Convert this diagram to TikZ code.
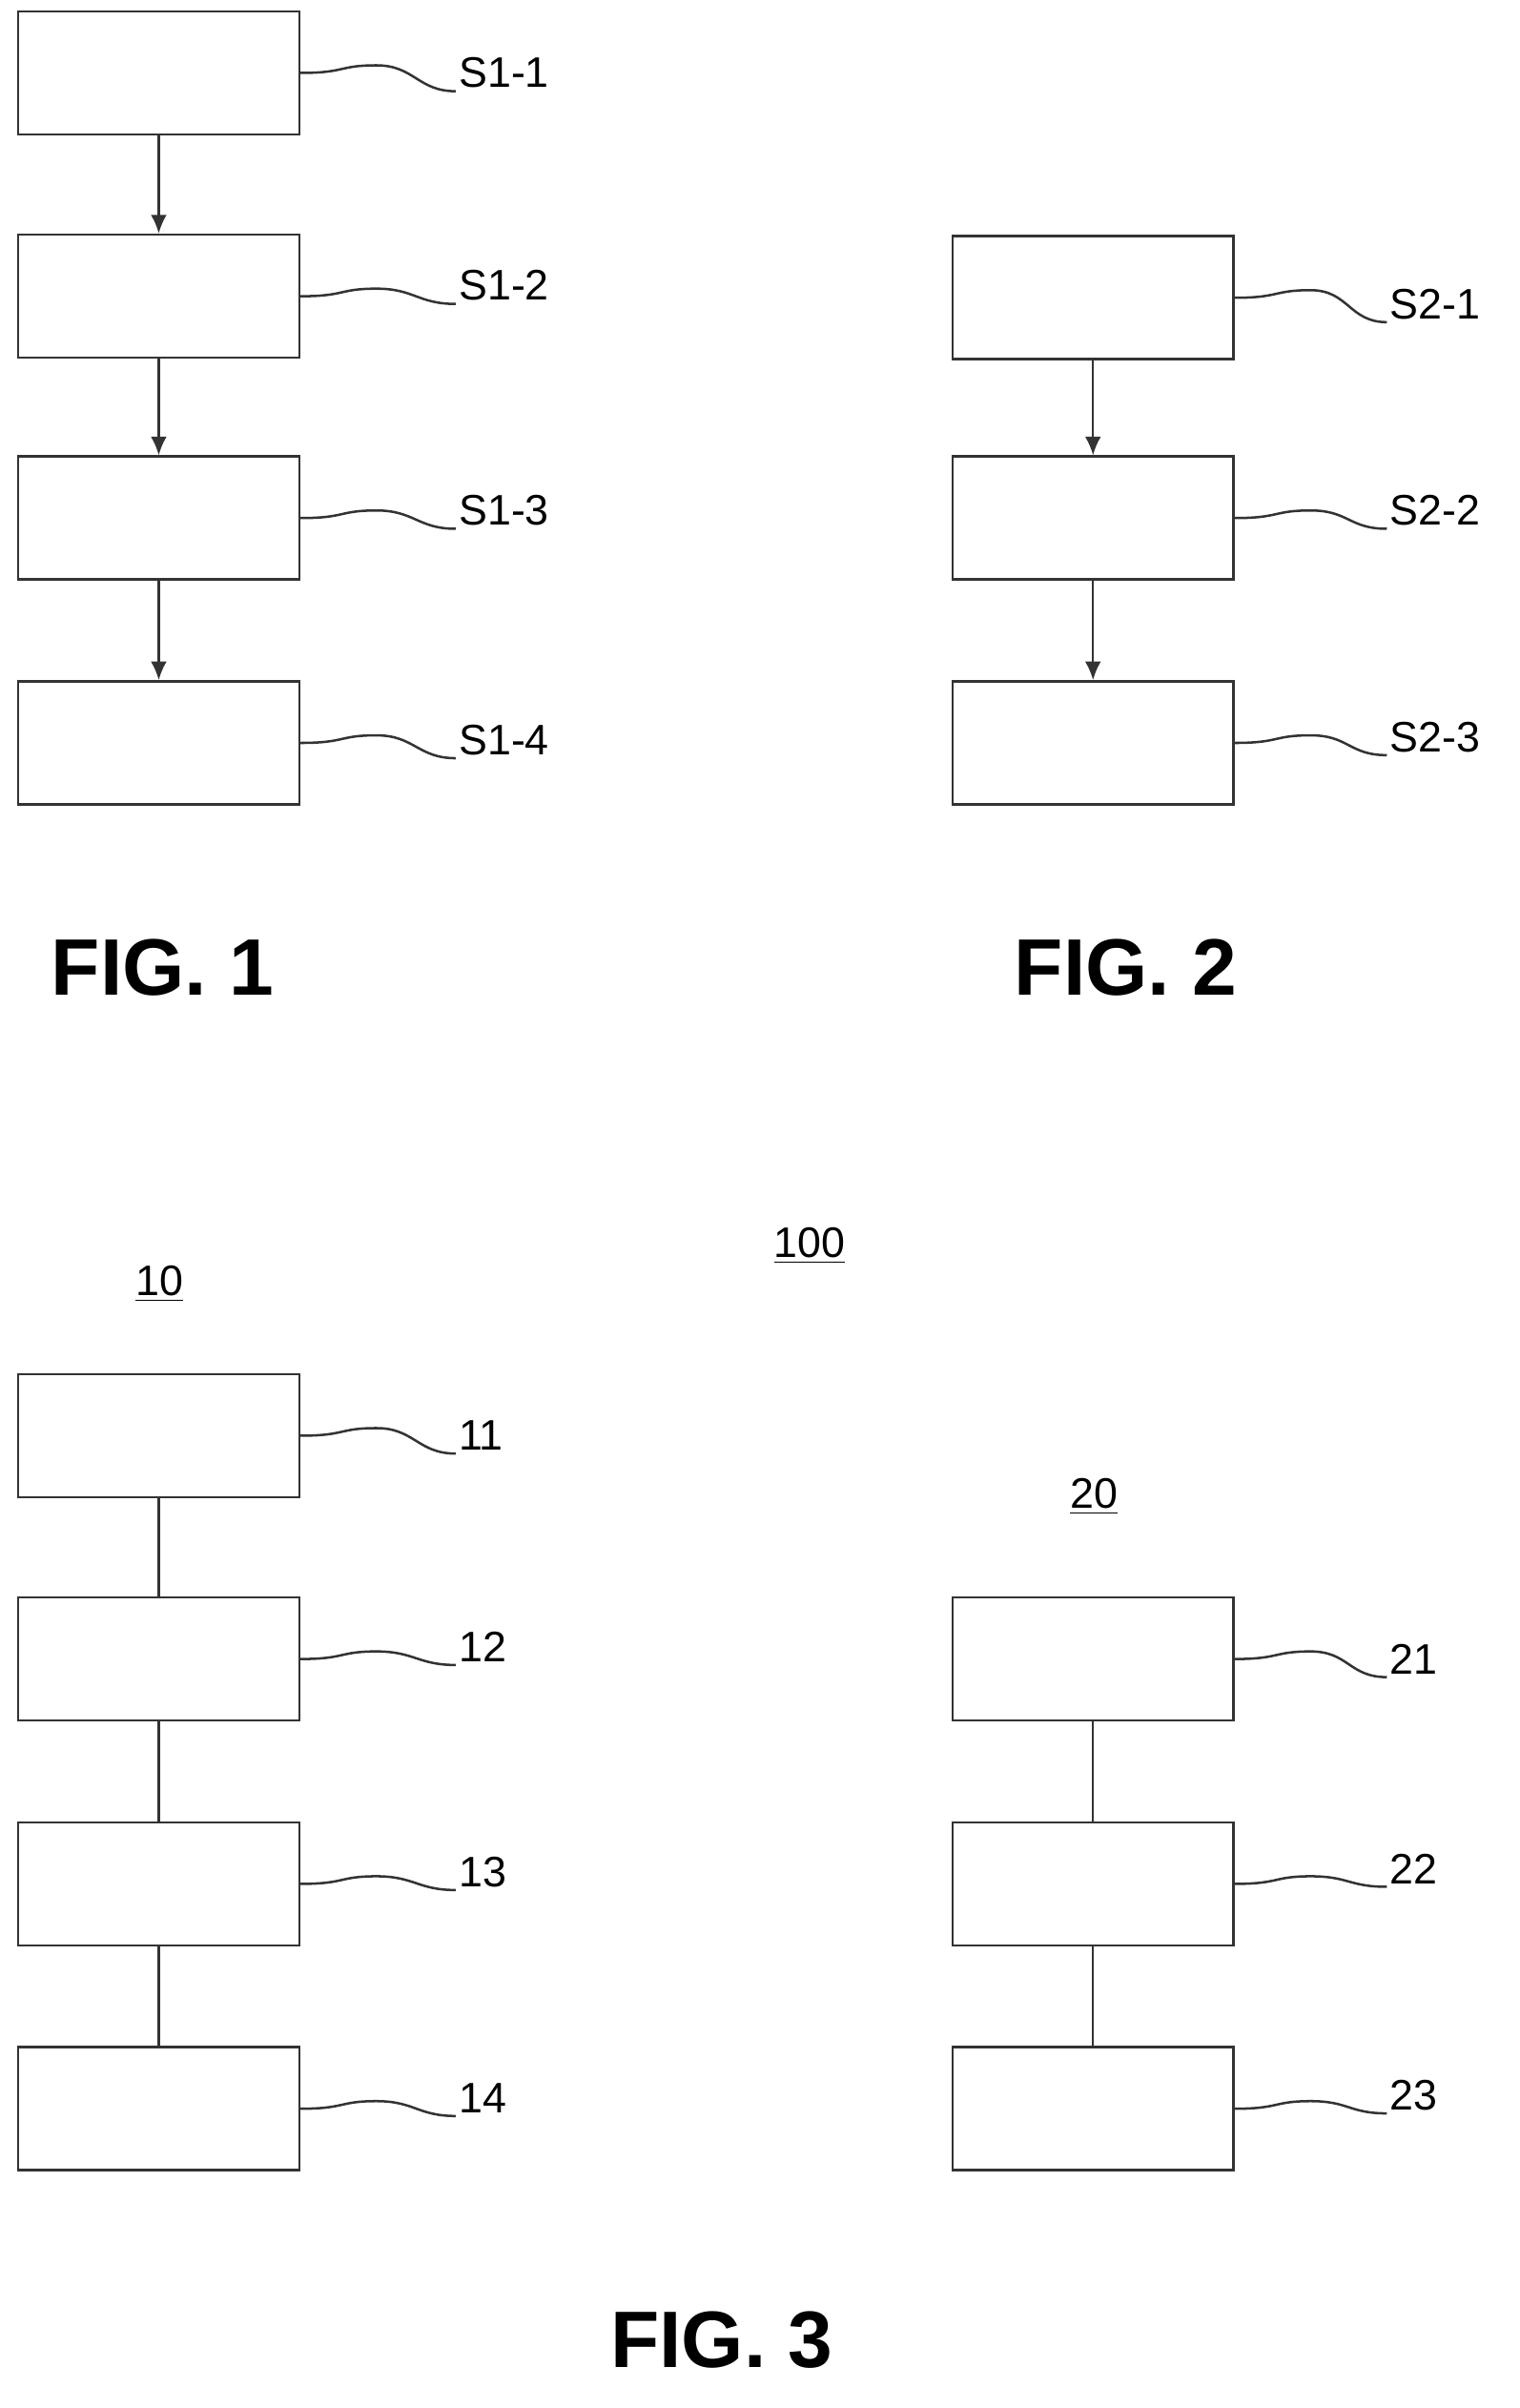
\documentclass[tikz,border=0pt]{standalone}
\usepackage{fontspec}
\setmainfont{Liberation Sans}
\usetikzlibrary{arrows.meta}

\tikzset{
    stage/.style = {draw = black!80, line width = 0.9pt, minimum width = 3.7cm, minimum height = 1.62cm, inner sep = 0pt},
    ref/.style = {font = \fontsize{16}{18}\selectfont, anchor = west, inner sep = 1pt},
    wave/.style = {draw = black!80, line width = 0.9pt},
    fig/.style = {font = \fontsize{30}{34}\selectfont\bfseries},
    flow/.style = {draw = black!80, line width = 0.9pt, -{Latex[length=7pt,width=6pt]}},
    link/.style = {draw = black!80, line width = 0.9pt}
}
\newcommand{\squig}[2]{\draw[wave] (#1.east) .. controls +(30,0) and +(-25,0) .. ++(50,-5) .. controls +(25,0) and +(-25,0) .. (#2.south west);}

\begin{document}
\begin{tikzpicture}[x=0.02cm, y=-0.02cm]

    \useasboundingbox (0,0) rectangle (1000,1585);

    % FIG. 1
    \node[stage] (s11) at (104.5,48) {};
    \node[stage] (s12) at (104.5,195) {};
    \node[stage] (s13) at (104.5,341) {};
    \node[stage] (s14) at (104.5,489) {};

    \node[ref] (l11) at (300,48) {S1-1};
    \node[ref] (l12) at (300,188) {S1-2};
    \node[ref] (l13) at (300,336) {S1-3};
    \node[ref] (l14) at (300,487) {S1-4};

    \draw[flow] (s11) -- (s12);
    \draw[flow] (s12) -- (s13);
    \draw[flow] (s13) -- (s14);

    \squig{s11}{l11}
    \squig{s12}{l12}
    \squig{s13}{l13}
    \squig{s14}{l14}

    \node[fig] (fig1) at (107,637) {FIG. 1};

    % FIG. 2
    \node[stage] (s21) at (719.5,196) {};
    \node[stage] (s22) at (719.5,341) {};
    \node[stage] (s23) at (719.5,489) {};

    \node[ref] (l21) at (913,200) {S2-1};
    \node[ref] (l22) at (913,336) {S2-2};
    \node[ref] (l23) at (913,485) {S2-3};

    \draw[flow] (s21) -- (s22);
    \draw[flow] (s22) -- (s23);

    \squig{s21}{l21}
    \squig{s22}{l22}
    \squig{s23}{l23}

    \node[fig] (fig2) at (741,637) {FIG. 2};

    % FIG. 3
    \node[ref, anchor = center] (sys) at (533,820) {\underline{100}};
    \node[ref, anchor = center] (dev1) at (105,845) {\underline{10}};
    \node[ref, anchor = center] (dev2) at (720,985) {\underline{20}};

    \node[stage] (m11) at (104.5,945) {};
    \node[stage] (m12) at (104.5,1092) {};
    \node[stage] (m13) at (104.5,1240) {};
    \node[stage] (m14) at (104.5,1388) {};

    \node[ref] (n11) at (300,945) {11};
    \node[ref] (n12) at (300,1084) {12};
    \node[ref] (n13) at (300,1232) {13};
    \node[ref] (n14) at (300,1381) {14};

    \draw[link] (m11) -- (m12);
    \draw[link] (m12) -- (m13);
    \draw[link] (m13) -- (m14);

    \squig{m11}{n11}
    \squig{m12}{n12}
    \squig{m13}{n13}
    \squig{m14}{n14}

    \node[stage] (m21) at (719.5,1092) {};
    \node[stage] (m22) at (719.5,1240) {};
    \node[stage] (m23) at (719.5,1388) {};

    \node[ref] (n21) at (913,1092) {21};
    \node[ref] (n22) at (913,1230) {22};
    \node[ref] (n23) at (913,1379) {23};

    \draw[link] (m21) -- (m22);
    \draw[link] (m22) -- (m23);

    \squig{m21}{n21}
    \squig{m22}{n22}
    \squig{m23}{n23}

    \node[fig] (fig3) at (475,1540) {FIG. 3};
\end{tikzpicture}
\end{document}
